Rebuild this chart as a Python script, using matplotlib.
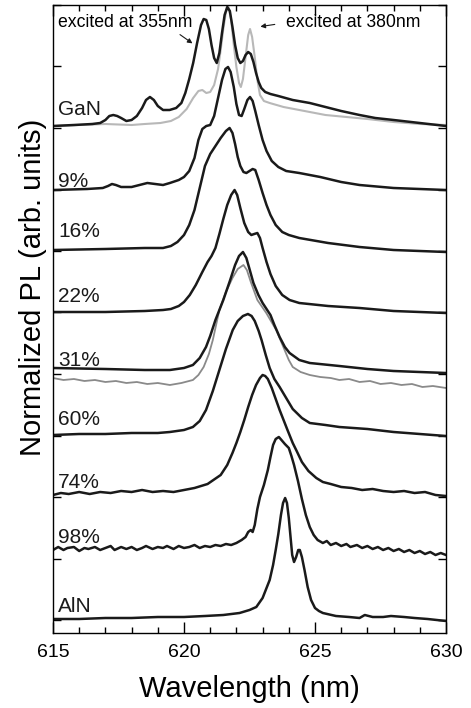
import numpy as np
import matplotlib
matplotlib.use("Agg")
import matplotlib.pyplot as plt
from matplotlib.ticker import MultipleLocator

plt.rcParams["font.family"] = ["Liberation Sans", "DejaVu Sans"]

# spectra: wavelength (nm) and normalized PL above each baseline
gan355_wl = [615.0, 615.8, 616.5, 616.8, 617.0, 617.15, 617.3, 617.45, 617.6, 617.8, 618.0, 618.2,
             618.4, 618.55, 618.7, 618.85, 619.0, 619.2, 619.45, 619.7, 619.9, 620.05, 620.2, 620.35,
             620.5, 620.65, 620.75, 620.85, 620.95, 621.05, 621.15, 621.25, 621.35, 621.45, 621.55, 621.65,
             621.75, 621.85, 621.95, 622.05, 622.15, 622.25, 622.35, 622.45, 622.55, 622.65, 622.75, 622.85,
             622.95, 623.1, 623.3, 623.6, 624.15, 624.8, 625.4, 626.0, 626.7, 627.3, 628.0, 629.0, 630.0]
gan355_pl = [-0.01, 0.0, 0.01, 0.02, 0.05, 0.09, 0.10, 0.09, 0.07, 0.04, 0.05, 0.09,
             0.17, 0.25, 0.28, 0.25, 0.19, 0.15, 0.15, 0.17, 0.22, 0.32, 0.46, 0.62,
             0.82, 1.00, 1.06, 1.05, 0.96, 0.80, 0.67, 0.62, 0.72, 0.92, 1.10, 1.18,
             1.14, 0.98, 0.80, 0.67, 0.62, 0.64, 0.70, 0.73, 0.71, 0.63, 0.52, 0.43,
             0.37, 0.33, 0.31, 0.29, 0.25, 0.22, 0.18, 0.14, 0.10, 0.07, 0.05, 0.02, -0.01]

gan380_wl = [615.0, 616.0, 617.0, 618.0, 618.5, 619.1, 619.5, 619.8, 620.1, 620.35, 620.55, 620.7,
             620.85, 621.0, 621.15, 621.3, 621.4, 621.5, 621.6, 621.7, 621.8, 621.9, 622.0, 622.1,
             622.17, 622.25, 622.35, 622.45, 622.52, 622.6, 622.7, 622.8, 622.9, 623.05, 623.27, 623.8,
             624.4, 625.4, 626.2, 627.0, 628.0, 629.0, 630.0]
gan380_pl = [-0.01, 0.0, 0.01, 0.0, 0.01, 0.02, 0.04, 0.08, 0.16, 0.27, 0.34, 0.35,
             0.32, 0.33, 0.40, 0.56, 0.75, 0.96, 1.13, 1.18, 1.05, 0.80, 0.58, 0.42,
             0.38, 0.46, 0.68, 0.90, 0.96, 0.88, 0.68, 0.45, 0.30, 0.24, 0.22, 0.18,
             0.15, 0.10, 0.08, 0.06, 0.03, 0.01, 0.0]

x09_wl = [615.0, 616.3, 616.9, 617.1, 617.25, 617.4, 617.6, 618.0, 618.3, 618.6, 618.9, 619.2,
          619.46, 619.8, 620.0, 620.2, 620.4, 620.55, 620.7, 620.85, 621.0, 621.15, 621.3, 621.45,
          621.58, 621.68, 621.78, 621.9, 622.0, 622.1, 622.2, 622.3, 622.42, 622.52, 622.62, 622.72,
          622.85, 623.0, 623.15, 623.35, 623.6, 623.9, 624.4, 625.2, 626.0, 626.7, 628.0, 630.0]
x09_pl = [0.0, 0.01, 0.02, 0.04, 0.06, 0.05, 0.03, 0.03, 0.05, 0.07, 0.06, 0.05,
          0.07, 0.10, 0.13, 0.19, 0.32, 0.50, 0.61, 0.64, 0.65, 0.74, 0.92, 1.10,
          1.21, 1.23, 1.18, 1.03, 0.86, 0.75, 0.74, 0.81, 0.90, 0.93, 0.89, 0.79,
          0.65, 0.50, 0.39, 0.29, 0.23, 0.19, 0.17, 0.13, 0.08, 0.05, 0.02, 0.0]

x16_wl = [615.0, 617.0, 618.5, 619.2, 619.5, 619.75, 620.0, 620.2, 620.4, 620.6, 620.8, 621.0,
          621.2, 621.4, 621.6, 621.74, 621.85, 621.95, 622.05, 622.15, 622.27, 622.38, 622.5, 622.62,
          622.72, 622.85, 623.0, 623.15, 623.3, 623.5, 623.75, 624.0, 624.4, 625.5, 626.7, 628.0, 630.0]
x16_pl = [0.0, 0.01, 0.02, 0.02, 0.04, 0.08, 0.15, 0.25, 0.40, 0.62, 0.84, 0.96,
          1.04, 1.12, 1.19, 1.22, 1.17, 1.06, 0.93, 0.84, 0.78, 0.77, 0.79, 0.81,
          0.80, 0.70, 0.57, 0.45, 0.35, 0.25, 0.18, 0.15, 0.12, 0.07, 0.03, 0.0, -0.02]

x22_wl = [615.0, 617.0, 618.5, 619.2, 619.5, 619.8, 620.0, 620.22, 620.45, 620.7, 620.9, 621.05,
          621.2, 621.35, 621.5, 621.65, 621.8, 621.93, 622.03, 622.15, 622.3, 622.45, 622.57, 622.68,
          622.8, 622.9, 623.0, 623.15, 623.3, 623.5, 623.75, 624.03, 624.4, 625.5, 626.7, 628.0, 630.0]
x22_pl = [0.0, 0.0, 0.01, 0.02, 0.03, 0.06, 0.10, 0.17, 0.27, 0.40, 0.50, 0.56,
          0.64, 0.78, 0.93, 1.07, 1.17, 1.22, 1.17, 1.04, 0.89, 0.80, 0.77, 0.78,
          0.79, 0.74, 0.64, 0.50, 0.38, 0.26, 0.17, 0.12, 0.09, 0.06, 0.04, 0.01, -0.01]

x31_wl = [615.0, 617.0, 618.5, 619.46, 620.0, 620.34, 620.6, 620.84, 621.0, 621.2, 621.5, 621.75,
          621.95, 622.1, 622.25, 622.38, 622.5, 622.65, 622.84, 623.0, 623.15, 623.3, 623.45, 623.65,
          623.85, 624.03, 624.4, 624.8, 625.93, 627.0, 628.0, 630.0]
x31_pl = [0.03, 0.02, 0.01, 0.01, 0.03, 0.06, 0.13, 0.24, 0.35, 0.51, 0.71, 0.90,
          1.06, 1.15, 1.19, 1.13, 1.02, 0.88, 0.76, 0.68, 0.62, 0.56, 0.46, 0.34,
          0.24, 0.18, 0.11, 0.08, 0.05, 0.02, 0.0, -0.02]

x31g_wl = [615.0, 615.4, 615.8, 616.2, 616.6, 617.0, 617.4, 617.8, 618.2, 618.6, 619.0, 619.46,
           619.9, 620.34, 620.55, 620.75, 620.95, 621.1, 621.35, 621.6, 621.85, 622.05, 622.27, 622.4,
           622.55, 622.8, 623.14, 623.52, 623.84, 624.0, 624.15, 624.45, 624.8, 625.2, 625.6, 625.93,
           626.3, 626.7, 627.1, 627.5, 627.9, 628.3, 628.7, 629.1, 629.5, 630.0]
x31g_pl = [0.06, 0.04, 0.05, 0.03, 0.04, 0.02, 0.03, 0.01, 0.02, 0.0, 0.01, -0.01,
           0.01, 0.04, 0.09, 0.17, 0.30, 0.44, 0.74, 0.92, 1.06, 1.15, 1.19, 1.14,
           1.02, 0.84, 0.71, 0.54, 0.34, 0.24, 0.17, 0.12, 0.09, 0.07, 0.06, 0.04,
           0.05, 0.02, 0.03, 0.0, 0.01, -0.01, 0.0, -0.03, -0.02, -0.04]

x60_wl = [615.0, 616.0, 617.0, 618.0, 619.0, 619.46, 620.0, 620.34, 620.6, 620.84, 621.1, 621.35,
          621.6, 621.86, 622.05, 622.25, 622.44, 622.58, 622.7, 622.85, 622.96, 623.12, 623.27, 623.45,
          623.65, 623.9, 624.15, 624.5, 624.8, 625.4, 625.93, 627.0, 628.0, 629.0, 630.0]
x60_pl = [-0.02, -0.01, -0.01, 0.0, 0.0, 0.01, 0.03, 0.06, 0.12, 0.23, 0.42, 0.63,
          0.84, 1.03, 1.12, 1.17, 1.19, 1.17, 1.12, 1.02, 0.93, 0.78, 0.65, 0.54,
          0.46, 0.35, 0.24, 0.15, 0.10, 0.08, 0.06, 0.04, 0.01, -0.01, -0.03]

x74_wl = [615.0, 615.3, 615.6, 616.0, 616.4, 616.8, 617.2, 617.6, 618.0, 618.4, 618.8, 619.2,
          619.6, 620.0, 620.4, 620.9, 621.4, 621.65, 621.85, 622.0, 622.15, 622.3, 622.45, 622.6,
          622.75, 622.9, 623.0, 623.1, 623.2, 623.35, 623.5, 623.65, 623.8, 623.95, 624.15, 624.3,
          624.5, 624.75, 625.05, 625.3, 625.6, 626.0, 626.4, 626.8, 627.2, 627.6, 628.0, 628.4,
          628.8, 629.2, 629.6, 630.0]
x74_pl = [-0.02, 0.0, -0.01, 0.01, -0.01, 0.01, 0.0, 0.02, 0.01, 0.03, 0.01, 0.02,
          0.01, 0.03, 0.05, 0.09, 0.18, 0.28, 0.40, 0.50, 0.61, 0.73, 0.86, 0.98,
          1.08, 1.15, 1.18, 1.17, 1.14, 1.05, 0.94, 0.83, 0.73, 0.63, 0.50, 0.42,
          0.31, 0.22, 0.15, 0.11, 0.09, 0.06, 0.05, 0.03, 0.04, 0.02, 0.01, 0.02,
          0.0, 0.01, -0.02, -0.03]

x98_wl = [615.0, 615.2, 615.4, 615.55, 615.8, 616.0, 616.2, 616.35, 616.6, 616.8, 617.0, 617.2,
          617.35, 617.6, 617.8, 618.0, 618.2, 618.4, 618.55, 618.8, 619.0, 619.2, 619.35, 619.6,
          619.8, 620.0, 620.2, 620.4, 620.6, 620.8, 621.0, 621.2, 621.4, 621.6, 621.8, 622.0,
          622.2, 622.35, 622.45, 622.55, 622.62, 622.7, 622.8, 622.9, 623.05, 623.2, 623.3, 623.4,
          623.5, 623.62, 623.72, 623.85, 624.0, 624.1, 624.2, 624.35, 624.5, 624.65, 624.8, 624.95,
          625.1, 625.3, 625.45, 625.6, 625.8, 626.0, 626.2, 626.35, 626.6, 626.8, 627.0, 627.2,
          627.4, 627.6, 627.8, 628.0, 628.2, 628.4, 628.6, 628.8, 629.0, 629.2, 629.4, 629.6,
          629.8, 630.0]
x98_pl = [-0.01, 0.02, -0.01, 0.01, 0.02, -0.02, 0.01, 0.0, 0.02, -0.01, 0.01, 0.03,
          -0.01, 0.02, 0.0, 0.02, -0.01, 0.01, 0.03, 0.0, 0.02, 0.01, 0.03, 0.0,
          0.03, 0.01, 0.02, 0.04, 0.01, 0.03, 0.02, 0.04, 0.03, 0.05, 0.04, 0.06,
          0.09, 0.12, 0.17, 0.19, 0.17, 0.24, 0.40, 0.52, 0.64, 0.79, 0.92, 1.04,
          1.10, 1.12, 1.09, 1.05, 1.01, 0.93, 0.84, 0.68, 0.50, 0.34, 0.22, 0.14,
          0.09, 0.06, 0.08, 0.04, 0.06, 0.03, 0.05, 0.02, 0.04, 0.01, 0.03, 0.0,
          0.02, -0.01, 0.01, -0.02, 0.0, -0.03, -0.01, -0.04, -0.02, -0.05, -0.03, -0.06,
          -0.04, -0.06]

aln_wl = [615.0, 616.0, 617.0, 618.0, 619.0, 620.0, 620.8, 621.5, 622.12, 622.5, 622.76, 623.0,
          623.15, 623.27, 623.4, 623.5, 623.6, 623.7, 623.78, 623.86, 623.93, 624.0, 624.07, 624.13,
          624.2, 624.28, 624.36, 624.42, 624.5, 624.6, 624.72, 624.85, 625.0, 625.15, 625.3, 625.8,
          626.3, 626.7, 626.9, 627.2, 627.6, 627.9, 628.4, 628.8, 629.3, 630.0]
aln_pl = [0.01, 0.01, 0.02, 0.02, 0.03, 0.03, 0.04, 0.05, 0.07, 0.10, 0.13, 0.22,
          0.32, 0.40, 0.55, 0.70, 0.86, 1.05, 1.17, 1.22, 1.17, 1.02, 0.82, 0.65,
          0.58, 0.63, 0.70, 0.70, 0.63, 0.50, 0.33, 0.20, 0.12, 0.09, 0.07, 0.04,
          0.03, 0.02, 0.05, 0.03, 0.03, 0.04, 0.03, 0.02, 0.01, -0.01]

labels = ["GaN", "9%", "16%", "22%", "31%", "60%", "74%", "98%", "AlN"]
offsets = [5.08, 4.43, 3.83, 3.21, 2.62, 2.00, 1.40, 0.84, 0.13]
label_y = [5.18, 4.46, 3.96, 3.31, 2.67, 2.08, 1.45, 0.90, 0.21]
gray_offsets = [5.08, 2.49]   # GaN excited at 380 nm, 31% second spectrum

black = "#1a1a1a"

fig = plt.figure(figsize=(4.71, 7.08), dpi=100)
ax = fig.add_axes([53 / 471, 1 - 633 / 708, 393 / 471, 628 / 708])

# grey traces sit underneath the black ones
ax.plot(gan380_wl, np.array(gan380_pl) + gray_offsets[0], color="#b8b8b8", lw=1.5)
ax.plot(x31g_wl, np.array(x31g_pl) + gray_offsets[1], color="#8a8a8a", lw=1.3)

curves = [(gan355_wl, gan355_pl), (x09_wl, x09_pl), (x16_wl, x16_pl), (x22_wl, x22_pl),
          (x31_wl, x31_pl), (x60_wl, x60_pl), (x74_wl, x74_pl), (x98_wl, x98_pl),
          (aln_wl, aln_pl)]
for (wl, pl), off, lab, ly in zip(curves, offsets, labels, label_y):
    ax.plot(wl, np.array(pl) + off, color=black, lw=1.8, solid_joinstyle="round")
    ax.text(615.2, ly, lab, fontsize=15, color=black, va="baseline", ha="left")

ax.text(615.19, 6.06, "excited at 355nm", fontsize=12.7, va="baseline", ha="left")
ax.text(623.91, 6.06, "excited at 380nm", fontsize=12.7, va="baseline", ha="left")
ax.annotate("", xy=(620.41, 5.88), xytext=(619.76, 6.00),
            arrowprops=dict(arrowstyle="-|>", lw=0.8, color=black, mutation_scale=7))
ax.annotate("", xy=(622.81, 6.06), xytext=(623.57, 6.09),
            arrowprops=dict(arrowstyle="-|>", lw=0.8, color=black, mutation_scale=7))

ax.set_xlim(615, 630)
ax.set_ylim(0, 6.28)
ax.set_xticks([615, 620, 625, 630])
ax.xaxis.set_minor_locator(MultipleLocator(1))
ax.set_yticks(np.arange(0.13, 6.3, 0.615))
ax.set_yticklabels([])
ax.tick_params(axis="x", which="major", direction="in", top=True, length=8, width=1,
               labelsize=14, pad=8)
ax.tick_params(axis="x", which="minor", direction="in", top=True, length=4.5, width=1)
ax.tick_params(axis="y", which="major", direction="in", right=True, length=6, width=1)
for s in ax.spines.values():
    s.set_linewidth(1.0)

ax.set_xlabel("Wavelength (nm)", fontsize=21, labelpad=10)
ax.set_ylabel("Normalized PL (arb. units)", fontsize=21)
ax.yaxis.set_label_coords(-0.015, 0.55)

fig.savefig("out.png", dpi=100)
